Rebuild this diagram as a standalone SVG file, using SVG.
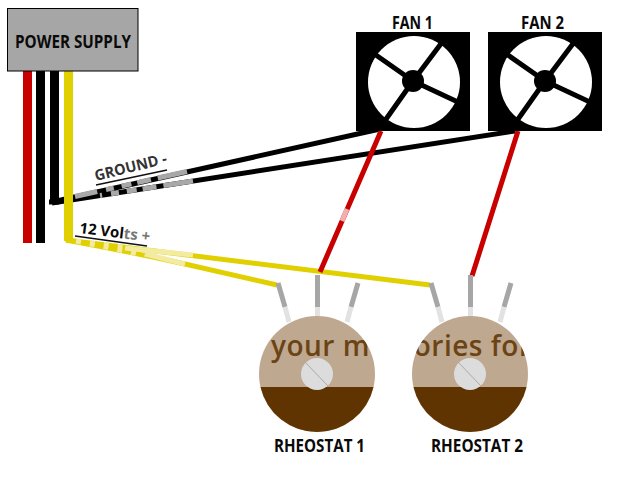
<svg xmlns="http://www.w3.org/2000/svg" width="640" height="480" viewBox="0 0 640 480">
<style>
.t{font-family:"Open Sans","Noto Sans",sans-serif;font-weight:700;fill:#0a0a0a;font-size:17px}
.sp{stroke:#000;stroke-width:5;fill:none}
.lug{stroke:#a6a6a6;stroke-width:5;fill:none}
.lugf{stroke:#e2e2e2;stroke-width:5;fill:none}
.w{fill:none;stroke-width:5}
</style>
<defs>
<clipPath id="c1"><circle cx="317" cy="374" r="58"/></clipPath>
<clipPath id="c2"><circle cx="470" cy="374" r="58"/></clipPath>
<g id="fan">
<rect x="356" y="32" width="114" height="99" fill="#000"/>
<circle cx="414" cy="82" r="46" fill="#fff"/>
<path class="sp" d="M373 53L413 81M443 41L413 81M460 103L413 81M384 122L413 81"/>
<circle cx="413" cy="81" r="11" fill="#000"/>
</g>
<g id="rh">
<path class="lug" d="M278 283L285 307M317.500 275V307M358 283L351 307"/>
<path class="lugf" d="M285 307L289 322M317.500 307V317M351 307L347 322"/>
<circle cx="317" cy="374" r="58" fill="#bfa890"/>
<path d="M260.500 387H373.500A58 58 0 0 1 260.500 387Z" fill="#5f3400"/>
<circle cx="317" cy="374" r="16" fill="#dcdcdc"/>
<path d="M305 362L328 386" stroke="#aaa" stroke-width="1" fill="none"/>
</g>
</defs>
<rect width="640" height="480" fill="#fff"/>
<g id="connectors">
<rect x="23" y="71" width="9" height="172" fill="#c80000"/>
<rect x="36" y="71" width="9" height="172" fill="#000"/>
<rect x="50" y="71" width="9" height="133" fill="#000"/>
<path d="M49 202H59" stroke="#000" stroke-width="5"/>
<path class="w" stroke="#000" d="M52 202L380 129M52 203L515 131"/>
<path class="w" stroke="#a8a8a8" d="M187 171.500L75 196.500M193 181L100 195.500" stroke-dasharray="30 7 14 6 10 8 8 9"/>
<path class="w" stroke="#e0d000" d="M66 240L430 285"/>
<path class="w" stroke="#e0d000" d="M66 240C110 248 140 254 185 264L277 285"/>
<path class="w" stroke="#f2eba0" d="M125 248L193 255M145 254L185 264"/>
<path class="w" stroke="#f2eba0" d="M76 241L130 248M76 241C100 246 125 251 145 255" stroke-dasharray="5 9"/>
<rect x="64" y="71" width="9" height="170" fill="#e0d000"/>
<path class="w" stroke="#c80000" d="M381 131L320 272M518 131L472 276"/>
<path class="w" stroke="#f0b0b0" d="M347 209L342 221"/>
</g>
<g id="power-supply">
<rect x="7.500" y="8.500" width="130.500" height="62.500" fill="#a6a6a6" stroke="#000" stroke-width="1"/>
<text class="t" x="15" y="48" textLength="116" lengthAdjust="spacingAndGlyphs">POWER SUPPLY</text>
</g>
<g id="fan-1">
<use href="#fan"/>
<text class="t" x="392" y="29" textLength="41" lengthAdjust="spacingAndGlyphs">FAN 1</text>
</g>
<g id="fan-2">
<use href="#fan" x="132"/>
<text class="t" x="521" y="29" textLength="43" lengthAdjust="spacingAndGlyphs">FAN 2</text>
</g>
<g id="rheostat-1">
<use href="#rh"/>
<text class="t" x="274" y="452" textLength="91" lengthAdjust="spacingAndGlyphs">RHEOSTAT 1</text>
</g>
<g id="rheostat-2">
<use href="#rh" x="153"/>
<text class="t" x="431" y="452" textLength="92" lengthAdjust="spacingAndGlyphs">RHEOSTAT 2</text>
</g>
<g font-family="Open Sans,sans-serif" font-size="28" font-weight="600" fill="#6b4415">
<text clip-path="url(#c1)" x="271" y="356" textLength="260" lengthAdjust="spacing">your memories for</text>
<text clip-path="url(#c2)" x="271" y="356" textLength="260" lengthAdjust="spacing">your memories for</text>
</g>
<g id="labels">
<text class="t" transform="translate(96 181) rotate(-14)" textLength="74" lengthAdjust="spacingAndGlyphs" style="font-size:15px;fill:#333">GROUND -</text>
<path d="M96 185L167 170" stroke="#111" stroke-width="1.500" fill="none"/>
<text class="t" transform="translate(79 233) rotate(7)" textLength="71" lengthAdjust="spacingAndGlyphs" style="font-size:15px">12 Vol<tspan fill="#777">ts +</tspan></text>
<path d="M75 236L147 246" stroke="#111" stroke-width="1.500" fill="none"/>
</g>
</svg>
